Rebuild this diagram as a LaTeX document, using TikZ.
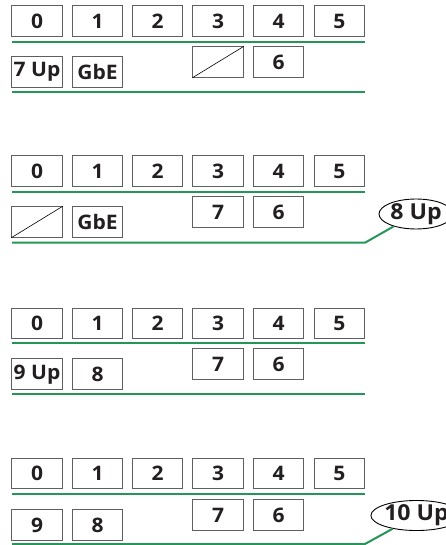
\documentclass[tikz,border=0pt]{standalone}
\usepackage{fontspec}
\setmainfont[FakeStretch=1.05]{Open Sans}
\usetikzlibrary{shapes.geometric}
\definecolor{busgreen}{RGB}{38,150,88}
\definecolor{boxgray}{RGB}{95,95,95}
\definecolor{txt}{RGB}{35,31,32}
\tikzset{
  slot/.style={draw=boxgray, line width=1pt, minimum width=50.5pt, minimum height=30.5pt,
    inner sep=0pt, text=txt, font=\fontsize{20}{20}\selectfont\bfseries},
  bus/.style={draw=busgreen, line width=2pt},
  upl/.style={draw=black, line width=0.9pt, ellipse, minimum width=74pt, minimum height=25pt,
    inner sep=0pt, text=txt, font=\fontsize{22}{22}\selectfont\bfseries},
  diag/.style={draw=black, line width=0.6pt}
}
\begin{document}
\begin{tikzpicture}[x=1pt,y=-1pt]
\useasboundingbox (0,0) rectangle (445,545);
% column centers
\def\ca{37}\def\cb{97.5}\def\cc{157.7}\def\cd{218.2}\def\ce{278.7}\def\cf{339.3}
% ---------- panel 1 ----------
\node[slot] (p1n0) at (\ca,21) {0};
\node[slot] (p1n1) at (\cb,21) {1};
\node[slot] (p1n2) at (\cc,21) {2};
\node[slot] (p1n3) at (\cd,21) {3};
\node[slot] (p1n4) at (\ce,21) {4};
\node[slot] (p1n5) at (\cf,21) {5};
\coordinate (p1ga) at (12,41.7); \coordinate (p1gb) at (365,41.7);
\draw[bus] (p1ga) -- (p1gb);
\node[slot] (p1n7) at (\ca,72) {7 Up};
\node[slot] (p1gbe) at (\cb,72) {GbE};
\node[slot] (p1x) at (\cd,62) {};
\draw[diag] (p1x.south west) -- (p1x.north east);
\node[slot] (p1n6) at (\ce,62) {6};
\coordinate (p1ha) at (12,91.7); \coordinate (p1hb) at (365,91.7);
\draw[bus] (p1ha) -- (p1hb);
% ---------- panel 2 ----------
\node[slot] (p2n0) at (\ca,171) {0};
\node[slot] (p2n1) at (\cb,171) {1};
\node[slot] (p2n2) at (\cc,171) {2};
\node[slot] (p2n3) at (\cd,171) {3};
\node[slot] (p2n4) at (\ce,171) {4};
\node[slot] (p2n5) at (\cf,171) {5};
\coordinate (p2ga) at (12,192.3); \coordinate (p2gb) at (365,192.3);
\draw[bus] (p2ga) -- (p2gb);
\node[slot] (p2x) at (\ca,222) {};
\draw[diag] (p2x.south west) -- (p2x.north east);
\node[slot] (p2gbe) at (\cb,222) {GbE};
\node[slot] (p2n7) at (\cd,212) {7};
\node[slot] (p2n6) at (\ce,212) {6};
\node[upl] (p2up) at (416,214) {8 Up};
\coordinate (p2ha) at (12,242.7); \coordinate (p2hb) at (365,242.7);
\draw[bus, line join=round] (p2ha) -- (p2hb) -- (p2up.209);
% ---------- panel 3 ----------
\node[slot] (p3n0) at (\ca,323.7) {0};
\node[slot] (p3n1) at (\cb,323.7) {1};
\node[slot] (p3n2) at (\cc,323.7) {2};
\node[slot] (p3n3) at (\cd,323.7) {3};
\node[slot] (p3n4) at (\ce,323.7) {4};
\node[slot] (p3n5) at (\cf,323.7) {5};
\coordinate (p3ga) at (12,343.3); \coordinate (p3gb) at (365,343.3);
\draw[bus] (p3ga) -- (p3gb);
\node[slot] (p3n9) at (\ca,374.2) {9 Up};
\node[slot] (p3n8) at (\cb,374.2) {8};
\node[slot] (p3n7) at (\cd,364.2) {7};
\node[slot] (p3n6) at (\ce,364.2) {6};
\coordinate (p3ha) at (12,394); \coordinate (p3hb) at (365,394);
\draw[bus] (p3ha) -- (p3hb);
% ---------- panel 4 ----------
\node[slot] (p4n0) at (\ca,473.7) {0};
\node[slot] (p4n1) at (\cb,473.7) {1};
\node[slot] (p4n2) at (\cc,473.7) {2};
\node[slot] (p4n3) at (\cd,473.7) {3};
\node[slot] (p4n4) at (\ce,473.7) {4};
\node[slot] (p4n5) at (\cf,473.7) {5};
\coordinate (p4ga) at (12,494); \coordinate (p4gb) at (365,494);
\draw[bus] (p4ga) -- (p4gb);
\node[slot] (p4n9) at (\ca,525) {9};
\node[slot] (p4n8) at (\cb,525) {8};
\node[slot] (p4n7) at (\cd,515) {7};
\node[slot] (p4n6) at (\ce,515) {6};
\node[upl] (p4up) at (416.5,515.5) {10 Up};
\coordinate (p4ha) at (12,544); \coordinate (p4hb) at (365,544);
\draw[bus, line join=round] (p4ha) -- (p4hb) -- (p4up.209);
\end{tikzpicture}
\end{document}
